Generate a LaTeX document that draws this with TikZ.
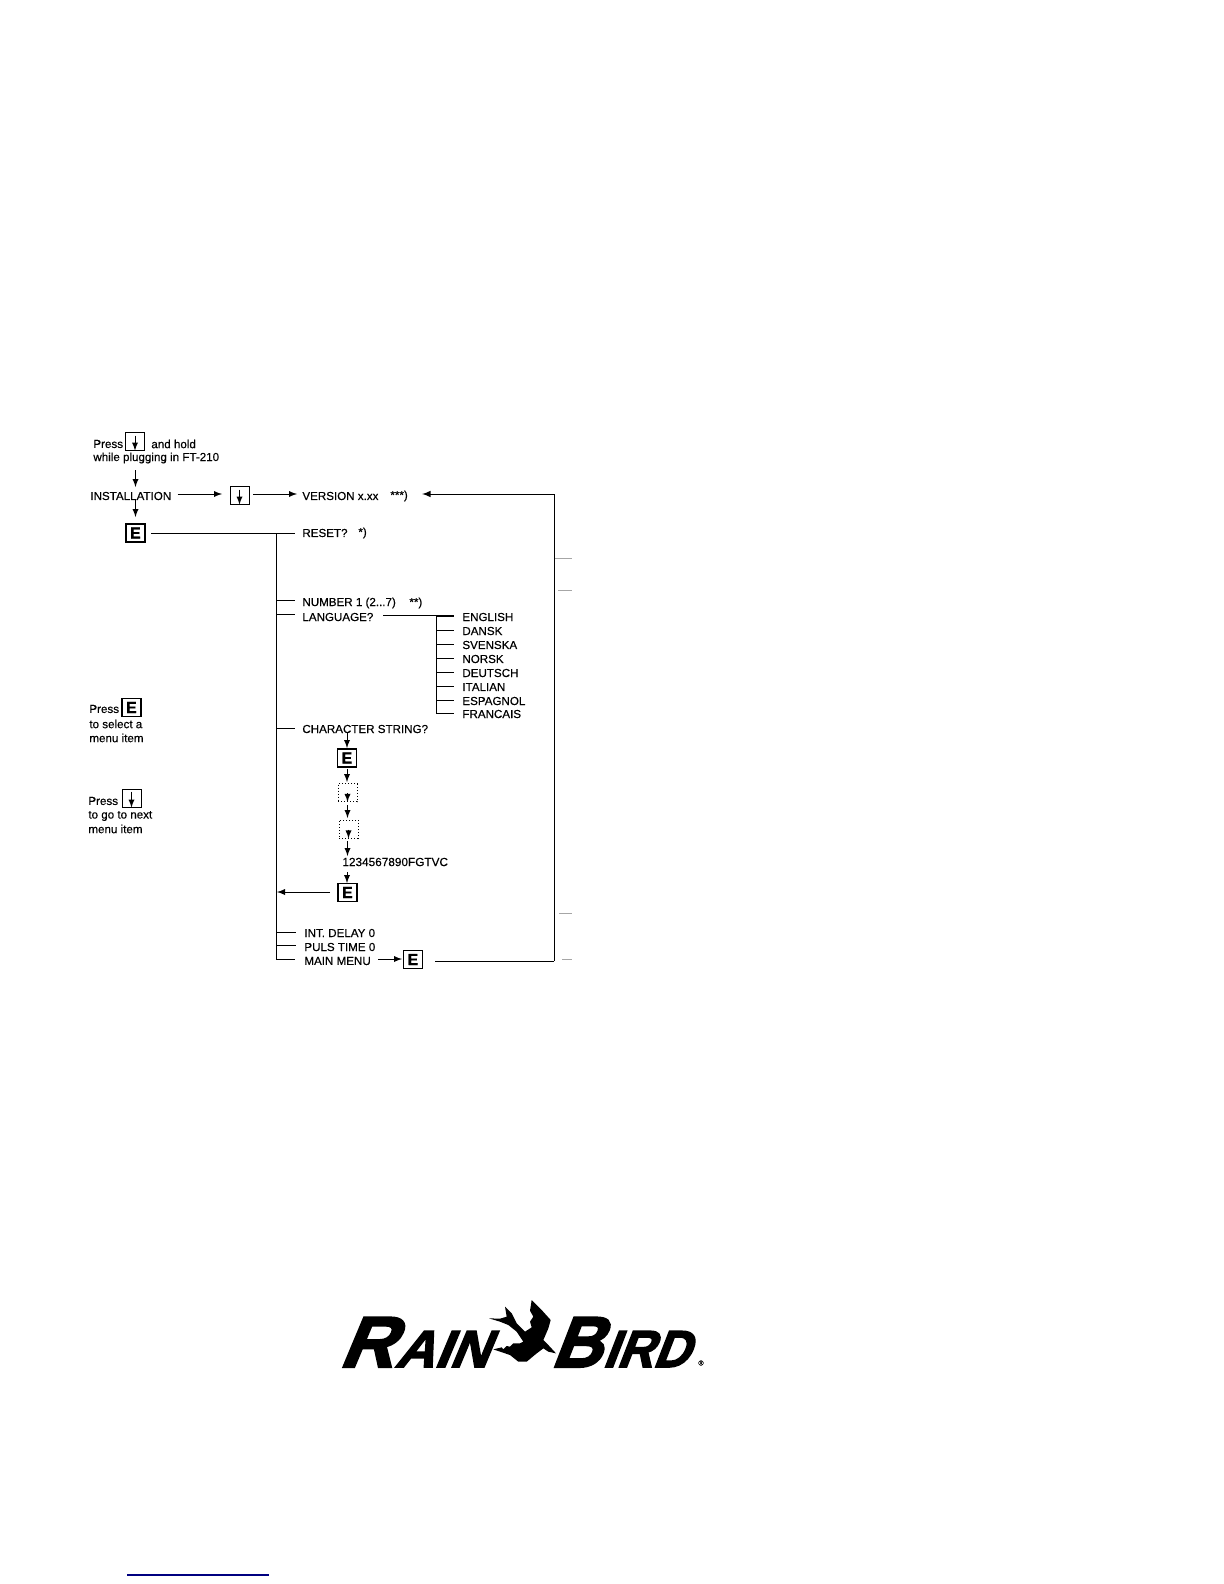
\documentclass[tikz,border=0pt]{standalone}
\usepackage{fontspec}
\setmainfont[FakeBold=0.35]{Liberation Sans}
\newfontfamily\logofont[FakeSlant=0.45,FakeBold=3,FakeStretch=1.12]{Liberation Sans Bold}
\tikzset{
  label/.style={anchor=west, inner sep=0pt, font=\fontsize{5.8}{6}\selectfont},
  keybox/.style={draw, line width=0.5pt, minimum width=9.5pt, minimum height=9pt, inner sep=0pt},
  dotbox/.style={keybox, densely dotted, line width=0.4pt},
  ekey/.style={keybox, line width=0.55pt, font=\fontsize{8}{8}\selectfont\bfseries},
  flow/.style={-latex, line width=0.4pt},
  rule/.style={line width=0.5pt},
  ghost/.style={line width=0.35pt, gray!70},
  logotext/.style={anchor=base west, inner sep=0pt, transform shape}
}
\begin{document}
\begin{tikzpicture}[x=0.5pt, y=-0.5pt]
  \useasboundingbox (0,0) rectangle (1224,1584);
  % top instruction
  \node[label] (press) at (93,444) {Press};
  \node[keybox] (hold) at (135,441) {};
  \draw[flow] (hold.north) ++(0,4) -- (hold.south);
  \node[label] (andhold) at (151,444) {and hold};
  \node[label] (plug) at (93,458) {while plugging in FT-210};
  \coordinate (p1) at (135.5,470);
  \node[label] (inst) at (90,496) {INSTALLATION};
  \draw[flow] (p1) -- (135.5,487);
  \node[keybox] (down) at (239.5,495) {};
  \draw[flow] (down.north) ++(0,4) -- (down.south);
  \node[label] (version) at (302,496) {VERSION x.xx};
  \node[label] (stars3) at (390,496) {***)};
  \draw[flow] (inst.east) ++(6,-2) -- (222,494);
  \draw[flow] (253,494) -- (297,494);
  \node[ekey] (e1) at (135.5,533) {E};
  \draw[flow] (135.5,500) -- (135.5,517);
  \node[label] (reset) at (302,533) {RESET?};
  \node[label] (stars1) at (358,533) {*)};
  % main trunk
  \coordinate (trunk) at (276,533);
  \draw[rule] (151,533) -- (295,533);
  \draw[rule] (trunk) -- (276,959) -- (295,959);
  \node[label] (number) at (302,603) {NUMBER 1 (2...7)};
  \node[label] (stars2) at (409,603) {**)};
  \draw[rule] (276,600) -- (295,600);
  \node[label] (lang) at (302,617) {LANGUAGE?};
  \draw[rule] (276,614) -- (295,614);
  \draw[rule] (383,615) -- (454,615);
  % languages
  \draw[rule] (436,615) -- (436,714);
  \foreach \y/\name in {617/ENGLISH, 631/DANSK, 645/SVENSKA, 659/NORSK, 673/DEUTSCH, 687/ITALIAN, 701/ESPAGNOL, 714/FRANCAIS}{
    \node[label] (l\y) at (462,\y) {\name};
    \draw[rule] (436,\y-1) -- (454,\y-1);
  }
  % character string
  \node[label] (chars) at (302,729) {CHARACTER STRING?};
  \draw[rule] (276,728) -- (295,728);
  \draw[flow] (347,733) -- (347,748);
  \node[ekey] (e2) at (347,758) {E};
  \draw[flow] (347,769) -- (347,782);
  \node[dotbox] (d1) at (347.5,792.5) {};
  \draw[flow] (d1.north) ++(0,10) -- (d1.south);
  \draw[flow] (347.5,805) -- (347.5,818);
  \node[dotbox] (d2) at (348.5,829) {};
  \draw[flow] (d2.north) ++(0,10) -- (d2.south);
  \draw[flow] (347.5,841) -- (347.5,856);
  \node[label, font=\fontsize{5.9}{6}\selectfont] (code) at (342,862) {1234567890FGTVC};
  \draw[flow] (347,872) -- (347,883);
  \node[ekey] (e3) at (347.5,892.5) {E};
  \draw[flow] (330,892) -- (277,892);
  % bottom items
  \node[label] (delay) at (304,933) {INT. DELAY 0};
  \draw[rule] (276,932) -- (296,932);
  \node[label] (puls) at (304,947) {PULS TIME 0};
  \draw[rule] (276,945) -- (296,945);
  \node[label] (main) at (304,961) {MAIN MENU};
  \node[ekey] (e4) at (413,959.5) {E};
  \draw[flow] (378,959) -- (402,959);
  % return line
  \draw[rule] (435,961) -- (554,961);
  \draw[rule, -latex] (554,961) -- (554,494) -- (422,494);
  \foreach \y/\x in {558/555, 590/558, 913/559, 959/562}{
    \draw[ghost] (\x,\y) -- (572,\y);
  }
  % side notes
  \node[label] (pe) at (89,709) {Press};
  \node[ekey] (ekey) at (131.5,707.5) {E};
  \node[label] (se1) at (89,724) {to select a};
  \node[label] (se2) at (89,738) {menu item};
  \node[label] (pd) at (88,801) {Press};
  \node[keybox] (dkey) at (131.5,798) {};
  \draw[flow] (dkey.north) ++(0,3) -- (dkey.south);
  \node[label] (go1) at (88,816) {to go to next};
  \node[label] (go2) at (88,829) {menu item};
  % logo
  \node[logotext, xscale=0.93] (rain) at (338,1367) {\logofont\fontsize{36}{36}\selectfont R\kern1pt\fontsize{26}{26}\selectfont AIN};
  \node[logotext, xscale=0.86] (bird) at (550,1367) {\logofont\fontsize{36}{36}\selectfont B\kern1pt\fontsize{26}{26}\selectfont IRD};
  \node[anchor=center, inner sep=0pt, font=\fontsize{3.5}{4}\selectfont] (reg) at (701,1363) {®};
  \begin{scope}[shift={(480,1290)}, x=0.1667pt, y=-0.1667pt]
    \fill (27,85) -- (60,86) -- (80,80) -- (75,50) -- (95,70) -- (110,100) -- (135,125) -- (155,112) -- (150,95) -- (160,80) -- (150,62) -- (155,30) -- (185,60) -- (212,90) -- (205,115) -- (190,150) -- (205,165) -- (228,190) -- (205,185) -- (190,175) -- (170,190) -- (140,215) -- (115,215) -- (90,195) -- (40,178) -- (65,172) -- (70,178) -- (80,168) -- (90,170) -- (100,160) -- (120,160) -- (130,155) -- (110,125) -- (85,105) -- (60,95) -- cycle;
  \end{scope}
  % footer rule
  \draw[line width=0.6pt, blue!50!black] (127,1575) -- (269,1575);
\end{tikzpicture}
\end{document}
